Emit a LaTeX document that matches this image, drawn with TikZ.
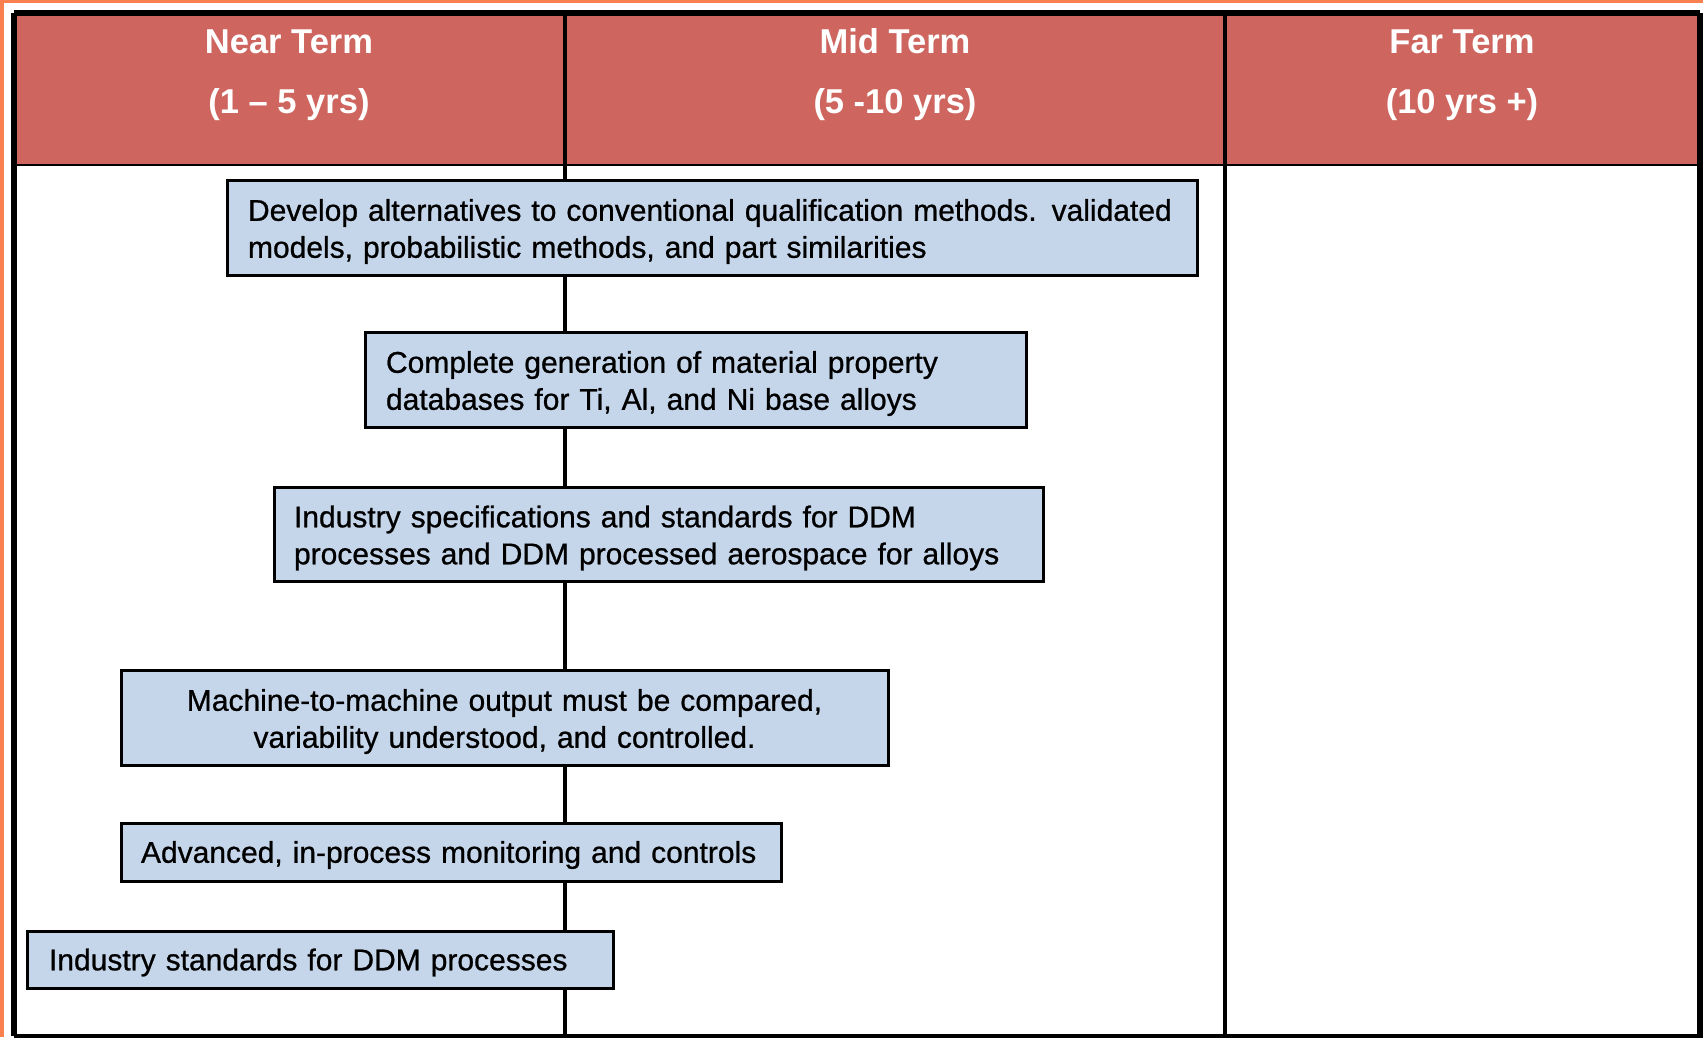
\documentclass[tikz,border=0pt]{standalone}
\usepackage{fontspec}
\setmainfont{Liberation Sans}
\newfontfamily\boxfont{Liberation Sans}[RawFeature={embolden=0.8}]
\definecolor{hdr}{RGB}{206,102,95}
\definecolor{boxfill}{RGB}{198,214,234}
\definecolor{orng}{RGB}{250,128,80}
\begin{document}
\begin{tikzpicture}[x=1pt,y=-1pt,
  box/.style={draw=black, line width=3pt, fill=boxfill, inner sep=0pt},
  boxtext/.style={inner sep=0pt, text=black, font=\boxfont\fontsize{30}{37}\selectfont},
  hdrtext/.style={text=white, align=center, font=\bfseries\fontsize{34.5}{60}\selectfont}]
\useasboundingbox (0,0) rectangle (1703,1037);
\fill[white] (0,0) rectangle (1703,1037);
\fill[orng] (0,0) rectangle (1703,3);
\fill[orng] (0,0) rectangle (4,1037);
\fill[hdr] (14,13) rectangle (1700,165);
\draw[line width=2pt] (14,165) -- (1700,165);
\draw[line width=4pt] (565,13) -- (565,1036);
\draw[line width=4pt] (1225,13) -- (1225,1036);
\draw[line width=6pt] (14,13) -- (1700,13);
\draw[line width=6pt] (14,13) -- (14,1036);
\draw[line width=6pt] (1700,13) -- (1700,1037);
\draw[line width=4pt] (14,1036) -- (1703,1036);
\node[hdrtext] (hnear) at (289,75) {Near Term\\(1 – 5 yrs)};
\node[hdrtext] (hmid) at (895,75) {Mid Term\\(5 -10 yrs)};
\node[hdrtext] (hfar) at (1462,75) {Far Term\\(10 yrs +)};
\node[box, minimum width=970pt, minimum height=95pt] (b1) at (712,227.5) {};
\node[boxtext, text width=928pt, align=left] (t1) at ([yshift=-4pt]b1.center)
  {Develop alternatives to  conventional qualification methods. validated\\models, probabilistic methods, and part similarities};
\node[box, minimum width=661pt, minimum height=95pt] (b2) at (695.5,379.5) {};
\node[boxtext, text width=619pt, align=left] (t2) at ([yshift=-4pt]b2.center)
  {Complete generation of material property\\databases for Ti, Al,  and Ni base alloys};
\node[box, minimum width=769pt, minimum height=94pt] (b3) at (658.5,534) {};
\node[boxtext, text width=729pt, align=left] (t3) at ([yshift=-4pt]b3.center)
  {Industry specifications and standards for DDM\\processes and DDM processed aerospace for alloys};
\node[box, minimum width=767pt, minimum height=95pt] (b4) at (504.5,717.5) {};
\node[boxtext, text width=727pt, align=center] (t4) at ([yshift=-4pt]b4.center)
  {Machine-to-machine output must be compared,\\variability understood, and controlled.};
\node[box, minimum width=660pt, minimum height=58pt] (b5) at (451,852) {};
\node[boxtext, text width=620pt, align=left] (t5) at ([yshift=-3pt]b5.center)
  {Advanced, in-process monitoring and controls};
\node[box, minimum width=586pt, minimum height=57pt] (b6) at (320,959.5) {};
\node[boxtext, text width=542pt, align=left] (t6) at ([yshift=-3pt]b6.center)
  {Industry standards for DDM processes};
\end{tikzpicture}
\end{document}
